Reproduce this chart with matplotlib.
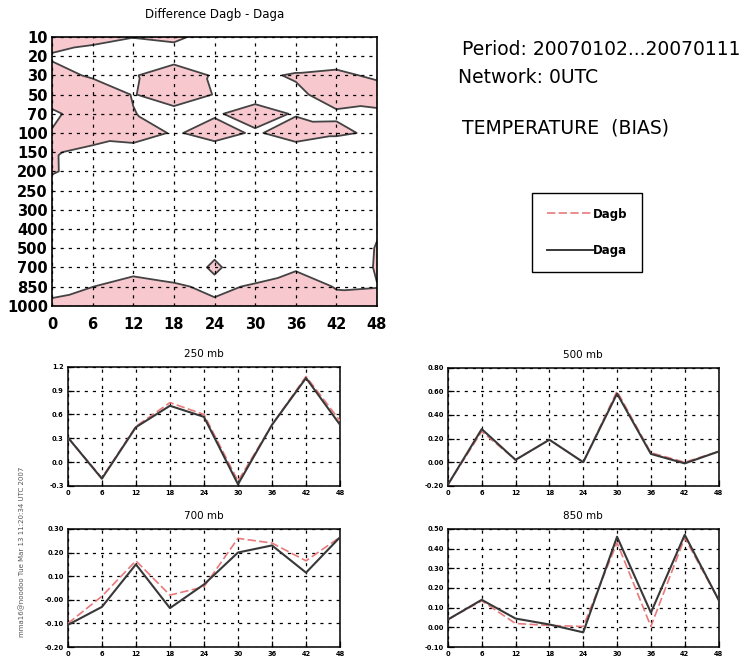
import numpy as np
import matplotlib
matplotlib.use('Agg')
import matplotlib.pyplot as plt
import matplotlib.tri as mtri
from matplotlib.lines import Line2D

plt.rcParams['font.family'] = ['DejaVu Sans']

# forecast hours and pressure levels (hPa)
hours = [0, 6, 12, 18, 24, 30, 36, 42, 48]
levels = [10, 20, 30, 50, 70, 100, 150, 200, 250, 300, 400, 500, 700, 850, 1000]

# difference field Dagb - Daga, one row per level (top to bottom), one column per hour
diff = [
    [1.0, 0.6, 0.05, 0.3, -0.6, -1.0, -1.0, -1.0, -1.0],
    [-0.2, -0.83, -1.0, -0.77, -1.0, -1.0, -1.0, -1.0, -1.0],
    [0.54, -0.2, -0.15, 1.0, -0.18, -0.3, 0.15, 0.43, -0.35],
    [1.0, 1.0, -0.075, 0.8, -0.05, -1.0, -0.3, 0.64, 1.0],
    [-0.33, 1.0, 0.05, -0.53, -0.28, 1.0, -0.22, -0.2, -0.43],
    [0.1, 1.0, 1.5, -0.3, 1.0, -0.33, 1.3, 0.31, -0.31],
    [0.19, -0.56, -1.38, -1.0, -1.33, -1.0, -1.5, -1.5, -1.0],
    [0.2, -1.0, -1.0, -1.0, -1.0, -1.0, -1.0, -1.0, -1.0],
    [-1.0, -1.0, -1.0, -1.0, -1.0, -1.0, -1.0, -1.0, -1.0],
    [-1.0, -1.0, -1.0, -1.0, -1.0, -1.0, -1.0, -1.0, -1.0],
    [-1.0, -1.0, -1.0, -1.0, -1.0, -1.0, -1.0, -1.0, -0.13],
    [-1.0, -1.0, -1.0, -1.0, -0.35, -1.0, -1.0, -1.0, 0.075],
    [-1.0, -1.0, -0.6, -1.0, 0.23, -1.0, -0.2, -1.0, 0.11],
    [-0.75, -0.02, 0.68, 0.25, -0.375, 0.2, 0.8, -0.095, -0.03],
    [0.5, 1.0, 1.0, 1.0, 0.3, 0.1, 0.5, 0.5, 0.4],
]

# temperature bias per level
t250_dagb = [0.31, -0.20, 0.45, 0.75, 0.60, -0.24, 0.47, 1.08, 0.52]
t250_daga = [0.31, -0.21, 0.44, 0.71, 0.57, -0.28, 0.47, 1.06, 0.47]
t500_dagb = [-0.19, 0.26, 0.02, 0.19, 0.00, 0.60, 0.08, 0.00, 0.09]
t500_daga = [-0.19, 0.28, 0.02, 0.19, 0.00, 0.58, 0.07, -0.01, 0.09]
t700_dagb = [-0.10, 0.015, 0.165, 0.02, 0.055, 0.26, 0.24, 0.165, 0.265]
t700_daga = [-0.106, -0.03, 0.15, -0.035, 0.065, 0.20, 0.23, 0.115, 0.265]
t850_dagb = [0.04, 0.135, 0.02, 0.01, 0.005, 0.43, 0.005, 0.455, 0.14]
t850_daga = [0.04, 0.14, 0.045, 0.015, -0.025, 0.46, 0.075, 0.47, 0.14]

PINK = '#f8c8cf'
RED = '#e8797a'
DARK = '#383838'
GRID = dict(color='black', linestyle=(0, (2.5, 4)), linewidth=0.9)


def grid_triangles(z):
    # split each cell so that saddles keep the positive areas apart
    ny, nx = z.shape
    zf = z.ravel()
    tris = []
    for j in range(ny - 1):
        for i in range(nx - 1):
            a = j * nx + i
            b = a + 1
            c = a + nx
            d = c + 1
            pa, pb, pc, pd = [zf[k] > 0 for k in (a, b, c, d)]
            if pa == pd and pb == pc and pa != pb:
                use_ad = not pa
            elif pa == pd:
                use_ad = True
            elif pb == pc:
                use_ad = False
            else:
                use_ad = zf[a] + zf[d] <= zf[b] + zf[c]
            if use_ad:
                tris += [[a, b, d], [a, d, c]]
            else:
                tris += [[a, b, c], [b, d, c]]
    return tris


fig = plt.figure(figsize=(7.54, 6.72), dpi=100)

# top: difference cross-section
z = np.array(diff)
xx, yy = np.meshgrid(hours, np.arange(len(levels)))
tri = mtri.Triangulation(xx.ravel(), yy.ravel(), grid_triangles(z))
ax = fig.add_axes([0.069, 0.545, 0.431, 0.40])
ax.tricontourf(tri, z.ravel(), levels=[0, z.max() + 1], colors=[PINK])
ax.tricontour(tri, z.ravel(), levels=[0], colors='#444444', linewidths=1.3)
ax.set_xlim(0, 48)
ax.set_ylim(len(levels) - 1, 0)
ax.set_xticks(hours)
ax.set_yticks(range(len(levels)))
ax.set_yticklabels([str(l) for l in levels])
ax.tick_params(length=0, labelsize=10.5)
ax.tick_params(axis='x', pad=8)
ax.tick_params(axis='y', pad=3)
for lab in ax.get_xticklabels() + ax.get_yticklabels():
    lab.set_fontweight('bold')
ax.grid(True, **GRID)
ax.set_axisbelow(False)
for s in ax.spines.values():
    s.set_linewidth(1.2)
ax.set_title('Difference Dagb - Daga', fontsize=8.5, pad=14)

# right: header text and legend
fig.text(0.613, 0.926, 'Period: 20070102...20070111', fontsize=13.5, va='center')
fig.text(0.607, 0.885, 'Network: 0UTC', fontsize=13.5, va='center')
fig.text(0.613, 0.810, 'TEMPERATURE  (BIAS)', fontsize=13.5, va='center')
handles = [Line2D([], [], color=RED, linestyle=(0, (5, 2)), linewidth=1.2),
           Line2D([], [], color=DARK, linewidth=1.4)]
leg = fig.legend(handles, ['Dagb', 'Daga'], loc='upper left', bbox_to_anchor=(0.706, 0.713),
                 fancybox=False, edgecolor='black', framealpha=1, handlelength=3.9,
                 handletextpad=0.0, labelspacing=2.0, borderpad=1.25, borderaxespad=0,
                 prop={'size': 8.5, 'weight': 'bold'})
leg.get_frame().set_linewidth(1.0)

# bottom: bias curves per level
panels = [
    ('250 mb', [0.090, 0.277, 0.361, 0.177], t250_dagb, t250_daga,
     [-0.3, 0.0, 0.3, 0.6, 0.9, 1.2], '%.1f'),
    ('500 mb', [0.594, 0.277, 0.359, 0.176], t500_dagb, t500_daga,
     [-0.2, 0.0, 0.2, 0.4, 0.6, 0.8], '%.2f'),
    ('700 mb', [0.090, 0.037, 0.361, 0.176], t700_dagb, t700_daga,
     [-0.2, -0.1, -0.0, 0.1, 0.2, 0.3], '%.2f'),
    ('850 mb', [0.594, 0.037, 0.359, 0.176], t850_dagb, t850_daga,
     [-0.1, 0.0, 0.1, 0.2, 0.3, 0.4, 0.5], '%.2f'),
]
for title, rect, dagb, daga, yticks, fmt in panels:
    a = fig.add_axes(rect)
    a.plot(hours, dagb, color=RED, linestyle=(0, (5, 2)), linewidth=1.2, zorder=3)
    a.plot(hours, daga, color=DARK, linewidth=1.5, zorder=4)
    a.set_xlim(0, 48)
    a.set_ylim(yticks[0], yticks[-1])
    a.set_xticks(hours)
    a.set_yticks(yticks)
    labs = [fmt % v for v in yticks]
    if title == '700 mb':
        labs[2] = '-0.00'
    a.set_yticklabels(labs)
    a.tick_params(direction='in', length=4, width=0.9, labelsize=4.8, pad=3)
    for lab in a.get_xticklabels() + a.get_yticklabels():
        lab.set_fontweight('bold')
    a.grid(True, **GRID)
    for s in a.spines.values():
        s.set_linewidth(1.1)
    a.set_title(title, fontsize=7.5, pad=7)

fig.text(0.029, 0.179, 'mma16@noodoo Tue Mar 13 11:20:34 UTC 2007', fontsize=5,
         rotation=90, ha='center', va='center', color='#555555')

fig.savefig('out.png', dpi=100)
